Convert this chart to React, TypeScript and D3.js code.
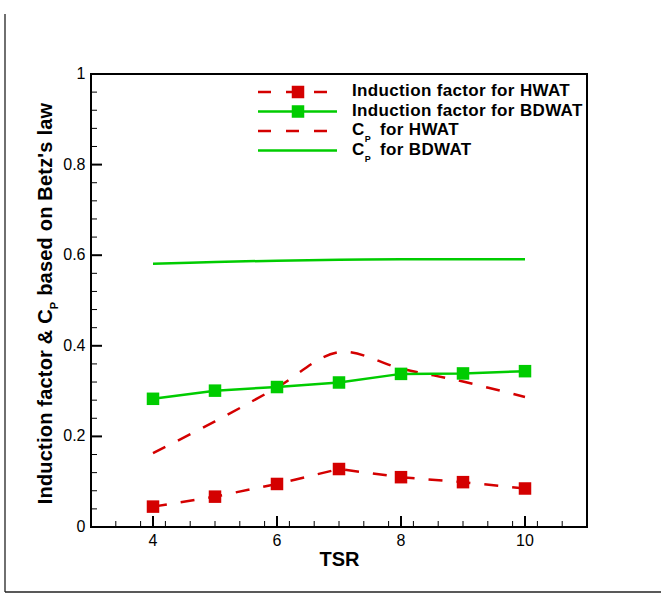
import React from "react";
import * as d3 from "d3";

const tsr = [4, 5, 6, 7, 8, 9, 10];
const inductionHWAT = [0.045, 0.067, 0.095, 0.128, 0.11, 0.099, 0.085];
const inductionBDWAT = [0.283, 0.301, 0.309, 0.319, 0.338, 0.339, 0.344];
const cpHWAT = [0.163, 0.233, 0.308, 0.386, 0.35, 0.321, 0.287];
const cpBDWAT = [0.581, 0.585, 0.588, 0.59, 0.591, 0.591, 0.591];

const xMajorTicks = [4, 6, 8, 10];
const yMajorTicks = [0, 0.2, 0.4, 0.6, 0.8, 1];
const yTickLabels = ["0", "0.2", "0.4", "0.6", "0.8", "1"];

const RED = "#d40000";
const GREEN = "#00cc00";
const FONT = "'Liberation Sans', Arial, Helvetica, sans-serif";

export default function App() {
  const W = 661, H = 594;
  const x = d3.scaleLinear().domain([3, 11]).range([91, 587]);
  const y = d3.scaleLinear().domain([0, 1]).range([527, 74]);

  const xMinor = d3.range(1, 20).map((i) => 3 + i * 0.4).filter((v) => !xMajorTicks.some((m) => Math.abs(m - v) < 1e-6));
  const yMinor = d3.range(1, 25).map((i) => i * 0.04).filter((v) => !yMajorTicks.some((m) => Math.abs(m - v) < 1e-6));

  const pts = (vals: number[]) => tsr.map((t, i) => [t, vals[i]] as [number, number]);
  const straight = d3.line<[number, number]>().x((d) => x(d[0])).y((d) => y(d[1]));
  const smooth = d3.line<[number, number]>().x((d) => x(d[0])).y((d) => y(d[1])).curve(d3.curveCatmullRom.alpha(0.5));

  const legendRows = [92, 111.5, 131, 150.5];
  const lx1 = 258, lx2 = 337, lmx = 298, ltx = 352;
  const MS = 12.5;

  return (
    <svg width={W} height={H} style={{ position: "absolute", left: 0, top: 0, background: "#fff" }} fontFamily={FONT}>
      <rect x={0} y={0} width={W} height={H} fill="#fff" />
      {/* outer page frame */}
      <line x1={5} y1={14} x2={5} y2={592} stroke="#222" strokeWidth={1.3} />
      <line x1={5} y1={592} x2={661} y2={592} stroke="#222" strokeWidth={1.3} />

      {/* data */}
      <path d={smooth(pts(cpBDWAT)) || ""} fill="none" stroke={GREEN} strokeWidth={2.5} />
      <path d={smooth(pts(cpHWAT)) || ""} fill="none" stroke={RED} strokeWidth={2.5} strokeDasharray="14,14" />
      <path d={straight(pts(inductionBDWAT)) || ""} fill="none" stroke={GREEN} strokeWidth={2.5} />
      <path d={straight(pts(inductionHWAT)) || ""} fill="none" stroke={RED} strokeWidth={2.5} strokeDasharray="14,14" />
      {tsr.map((t, i) => (
        <rect key={"g" + i} x={x(t) - MS / 2} y={y(inductionBDWAT[i]) - MS / 2} width={MS} height={MS} fill={GREEN} />
      ))}
      {tsr.map((t, i) => (
        <rect key={"r" + i} x={x(t) - MS / 2} y={y(inductionHWAT[i]) - MS / 2} width={MS} height={MS} fill={RED} />
      ))}

      {/* ticks */}
      {xMajorTicks.map((t) => (
        <line key={"xM" + t} x1={x(t)} x2={x(t)} y1={527} y2={516} stroke="#000" strokeWidth={2} />
      ))}
      {xMinor.map((t) => (
        <line key={"xm" + t} x1={x(t)} x2={x(t)} y1={527} y2={521} stroke="#000" strokeWidth={1} />
      ))}
      {yMajorTicks.map((t) => (
        <line key={"yM" + t} x1={91} x2={102} y1={y(t)} y2={y(t)} stroke="#000" strokeWidth={2} />
      ))}
      {yMinor.map((t) => (
        <line key={"ym" + t} x1={91} x2={97} y1={y(t)} y2={y(t)} stroke="#000" strokeWidth={1} />
      ))}
      <rect x={91} y={74} width={496} height={453} fill="none" stroke="#000" strokeWidth={2} />

      {/* tick labels */}
      {xMajorTicks.map((t) => (
        <text key={"xl" + t} x={x(t)} y={545.5} fontSize={16} textAnchor="middle" fill="#000">{t}</text>
      ))}
      {yMajorTicks.map((t, i) => (
        <text key={"yl" + t} x={85.5} y={y(t) + 5} fontSize={16} textAnchor="end" fill="#000">{yTickLabels[i]}</text>
      ))}

      {/* axis titles */}
      <text x={339.5} y={565.5} fontSize={20} fontWeight="bold" textAnchor="middle" fill="#000">TSR</text>
      <text transform="translate(52,303.5) rotate(-90)" fontSize={20} fontWeight="bold" textAnchor="middle" fill="#000" letterSpacing={0.2}>
        Induction factor &amp; C<tspan fontSize={11} dy={6}>P</tspan><tspan dy={-6}> based on Betz's law</tspan>
      </text>

      {/* legend */}
      <line x1={lx1} x2={lx2} y1={legendRows[0]} y2={legendRows[0]} stroke={RED} strokeWidth={2.5} strokeDasharray="13,15" />
      <rect x={lmx - MS / 2} y={legendRows[0] - MS / 2} width={MS} height={MS} fill={RED} />
      <line x1={lx1} x2={lx2} y1={legendRows[1]} y2={legendRows[1]} stroke={GREEN} strokeWidth={2.5} />
      <rect x={lmx - MS / 2} y={legendRows[1] - MS / 2} width={MS} height={MS} fill={GREEN} />
      <line x1={lx1} x2={lx2} y1={legendRows[2]} y2={legendRows[2]} stroke={RED} strokeWidth={2.5} strokeDasharray="13,15" />
      <line x1={lx1} x2={lx2} y1={legendRows[3]} y2={legendRows[3]} stroke={GREEN} strokeWidth={2.5} />

      <g fontSize={17} fontWeight="bold" fill="#000" letterSpacing={0.35}>
        <text x={ltx} y={legendRows[0] + 4}>Induction factor for HWAT</text>
        <text x={ltx} y={legendRows[1] + 4}>Induction factor for BDWAT</text>
        <text x={ltx} y={legendRows[2] + 4}>
          C<tspan fontSize={9} dy={7}>P</tspan><tspan dy={-7} dx={9}>for HWAT</tspan>
        </text>
        <text x={ltx} y={legendRows[3] + 4}>
          C<tspan fontSize={9} dy={7}>P</tspan><tspan dy={-7} dx={9}>for BDWAT</tspan>
        </text>
      </g>
    </svg>
  );
}
